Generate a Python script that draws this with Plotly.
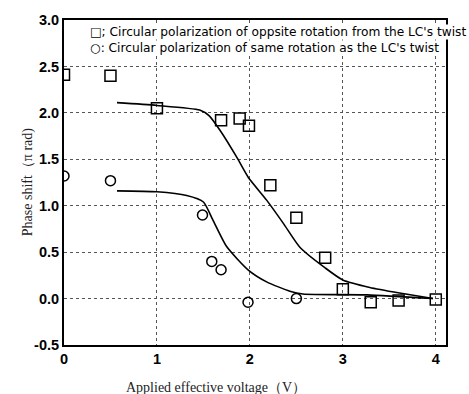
import plotly.graph_objects as go

# Data: squares (opposite rotation)
sq_x = [0.0, 0.5, 1.0, 1.69, 1.89, 1.99, 2.22, 2.5, 2.81, 3.0, 3.3, 3.6, 4.0]
sq_y = [2.41, 2.40, 2.05, 1.92, 1.94, 1.86, 1.22, 0.87, 0.44, 0.10, -0.04, -0.02, -0.01]
# circles (same rotation)
ci_x = [0.0, 0.5, 1.49, 1.59, 1.69, 1.98, 2.5]
ci_y = [1.32, 1.27, 0.90, 0.40, 0.31, -0.04, 0.0]
# fitted curves
fit_op_x = [0.57, 1.0, 1.46, 1.56, 1.68, 1.86, 1.98, 2.18, 2.36, 2.54, 2.81, 3.0, 3.29, 3.61, 3.97]
fit_op_y = [2.11, 2.08, 2.03, 1.97, 1.81, 1.52, 1.31, 1.06, 0.81, 0.55, 0.33, 0.20, 0.12, 0.06, 0.0]
fit_sa_x = [0.57, 1.0, 1.32, 1.5, 1.6, 1.75, 1.98, 2.18, 2.43, 2.57, 3.26, 3.97]
fit_sa_y = [1.16, 1.15, 1.11, 1.04, 0.85, 0.56, 0.31, 0.18, 0.08, 0.05, 0.04, 0.0]

x_ticks = [0, 1, 2, 3, 4]
y_ticks = [-0.5, 0.0, 0.5, 1.0, 1.5, 2.0, 2.5, 3.0]

fig = go.Figure()
fig.add_trace(go.Scatter(x=fit_op_x, y=fit_op_y, mode="lines",
                         line=dict(color="black", width=1.6, shape="spline", smoothing=0.6)))
fig.add_trace(go.Scatter(x=fit_sa_x, y=fit_sa_y, mode="lines",
                         line=dict(color="black", width=1.6, shape="spline", smoothing=0.6)))
fig.add_trace(go.Scatter(x=sq_x, y=sq_y, mode="markers",
                         marker=dict(symbol="square-open", size=11, color="black", line=dict(width=1.5))))
fig.add_trace(go.Scatter(x=ci_x, y=ci_y, mode="markers",
                         marker=dict(symbol="circle-open", size=10, color="black", line=dict(width=1.5))))

tickfont = dict(family="Liberation Sans, Arial", size=14.5, color="black")
fig.update_layout(
    width=469, height=394,
    margin=dict(l=64, r=23, t=18, b=49),
    paper_bgcolor="white", plot_bgcolor="white",
    showlegend=False,
    xaxis=dict(range=[0, 4.11], tickvals=x_ticks, ticktext=["<b>%d</b>" % v for v in x_ticks],
               tickfont=tickfont, showgrid=True, gridcolor="#555", griddash="dot", gridwidth=1,
               showline=True, linecolor="black", linewidth=2, mirror=True, zeroline=False, ticks=""),
    yaxis=dict(range=[-0.5, 3.0], tickvals=y_ticks, ticktext=["<b>%.1f</b>" % v for v in y_ticks],
               tickfont=tickfont, showgrid=True, gridcolor="#555", griddash="dot", gridwidth=1,
               showline=True, linecolor="black", linewidth=2, mirror=True, zeroline=False, ticks=""),
    annotations=[
        dict(xref="paper", yref="paper", x=-0.095, y=0.5, text="Phase shift（π rad)", textangle=-90,
             showarrow=False, font=dict(family="Liberation Serif, Times New Roman", size=14, color="#222"),
             xanchor="center", yanchor="middle"),
        dict(xref="paper", yref="paper", x=(216-64)/382, y=-0.13, text="Applied effective voltage（V）",
             showarrow=False, font=dict(family="Liberation Serif, Times New Roman", size=14, color="#222"),
             xanchor="center", yanchor="middle"),
        dict(xref="paper", yref="paper", x=(89-64)/382, y=(345-30)/327, text="□; Circular polarization of oppsite rotation from the LC's twist",
             showarrow=False, font=dict(family="DejaVu Sans", size=12.2, color="black"),
             xanchor="left", yanchor="middle", bgcolor="white", borderpad=0),
        dict(xref="paper", yref="paper", x=(89-64)/382, y=(345-46)/327, text="○: Circular polarization of same rotation as the LC's twist",
             showarrow=False, font=dict(family="DejaVu Sans", size=12.2, color="black"),
             xanchor="left", yanchor="middle", bgcolor="white", borderpad=0),
    ],
)
fig.write_html("out.html")
